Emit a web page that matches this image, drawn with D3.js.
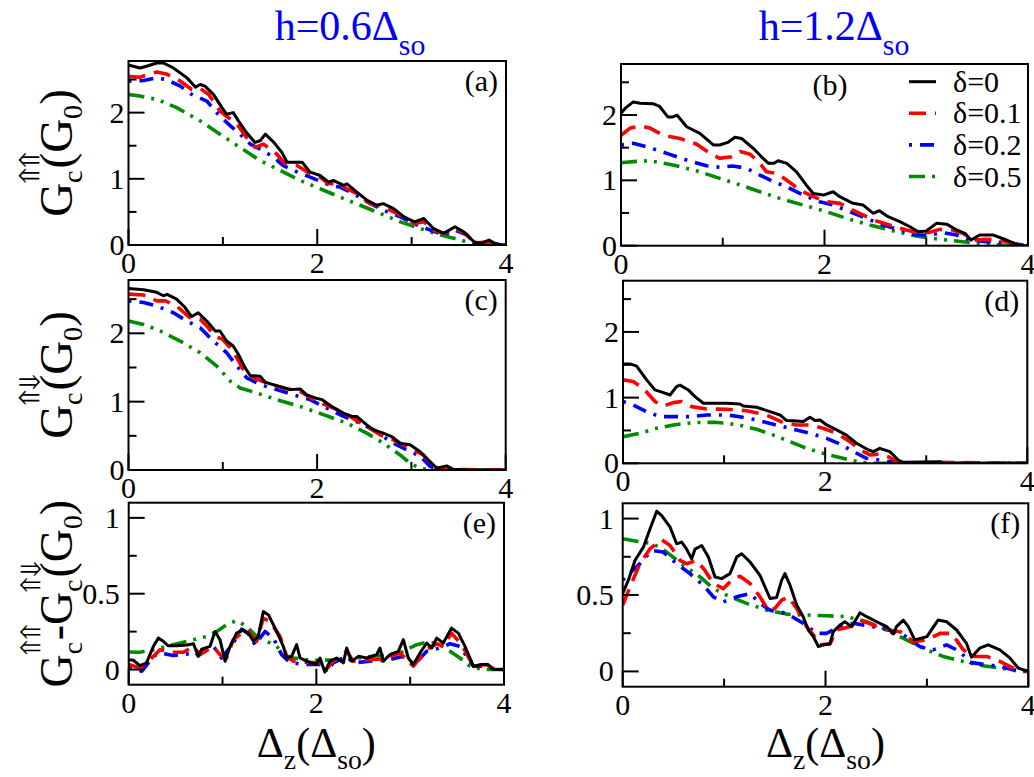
<!DOCTYPE html>
<html><head><meta charset="utf-8">
<script src="https://cdn.jsdelivr.net/npm/d3@7"></script>
<style>
body{margin:0;background:#fff}
svg{display:block}
</style></head><body>
<svg id="c" width="1034" height="777"></svg>
<script>
// ---------------- data ----------------
const deltaLabels = ["δ=0","δ=0.1","δ=0.2","δ=0.5"];
const seriesColors = ["#000000","#ff0000","#0000ff","#008c00"];
const xTickMajor = [0,2,4];
const xTickMinor = [1,3];
const yTickMajorG = [0,1,2];
const yTickMinorG = [0.5,1.5,2.5];
const yTickMajorDiff = [0,0.5,1];
const yTickMinorDiff = [0.25,0.75];
const panelLetters = ["(a)","(b)","(c)","(d)","(e)","(f)"];
const hValues = ["0.6","1.2"];

// panel (a): h=0.6, G_c^{uu}
const a_d0 = [[0,2.72],[0.12,2.675],[0.19,2.70],[0.30,2.75],[0.37,2.75],[0.475,2.675],[0.62,2.525],[0.71,2.385],[0.76,2.425],[0.81,2.40],[0.90,2.275],[0.99,2.075],[1.04,1.975],[1.11,2.0],[1.165,1.875],[1.25,1.70],[1.34,1.55],[1.395,1.575],[1.45,1.675],[1.54,1.55],[1.625,1.40],[1.68,1.25],[1.785,1.25],[1.84,1.25],[1.925,1.10],[2.03,1.05],[2.12,0.95],[2.17,0.975],[2.28,0.90],[2.315,0.925],[2.42,0.80],[2.53,0.675],[2.63,0.60],[2.70,0.625],[2.81,0.55],[2.92,0.425],[3.03,0.35],[3.13,0.40],[3.23,0.25],[3.34,0.175],[3.46,0.275],[3.55,0.20],[3.66,0.05],[3.73,0.025],[3.82,0.075],[3.90,0.01],[4,0]];
const a_d1 = [[0,2.55],[0.12,2.535],[0.30,2.615],[0.40,2.585],[0.55,2.475],[0.67,2.35],[0.76,2.365],[0.85,2.275],[0.97,2.025],[1.08,1.90],[1.15,1.825],[1.25,1.625],[1.34,1.475],[1.43,1.525],[1.57,1.375],[1.66,1.225],[1.785,1.20],[1.925,1.075],[2.03,1.025],[2.12,0.925],[2.21,0.925],[2.315,0.85],[2.42,0.775],[2.56,0.625],[2.70,0.575],[2.85,0.475],[3.03,0.325],[3.13,0.35],[3.23,0.225],[3.34,0.175],[3.46,0.25],[3.57,0.175],[3.66,0.035],[3.80,0.04],[3.90,0.01],[4,0]];
const a_d2 = [[0,2.475],[0.16,2.485],[0.30,2.525],[0.40,2.50],[0.55,2.40],[0.67,2.275],[0.83,2.175],[0.95,1.975],[1.08,1.80],[1.18,1.675],[1.29,1.525],[1.395,1.45],[1.54,1.325],[1.64,1.20],[1.75,1.125],[1.925,1.025],[2.14,0.90],[2.24,0.875],[2.385,0.775],[2.53,0.65],[2.70,0.525],[2.88,0.425],[3.06,0.30],[3.20,0.225],[3.34,0.15],[3.46,0.225],[3.59,0.15],[3.66,0.035],[3.80,0.035],[4,0]];
const a_d5 = [[0,2.275],[0.12,2.25],[0.30,2.20],[0.51,2.075],[0.76,1.875],[0.97,1.675],[1.18,1.475],[1.395,1.275],[1.61,1.125],[1.82,0.975],[2.03,0.85],[2.24,0.725],[2.455,0.60],[2.67,0.475],[2.88,0.35],[3.09,0.25],[3.31,0.15],[3.52,0.075],[3.66,0.01],[4,0]];

// panel (b): h=1.2, G_c^{uu}
const b_d0 = [[0,2.025],[0.04,2.10],[0.12,2.20],[0.19,2.18],[0.32,2.17],[0.38,2.13],[0.46,1.97],[0.51,1.97],[0.55,2.0],[0.645,1.82],[0.775,1.72],[0.91,1.54],[0.97,1.54],[1.05,1.58],[1.12,1.66],[1.185,1.64],[1.30,1.49],[1.38,1.36],[1.45,1.26],[1.50,1.26],[1.545,1.30],[1.63,1.26],[1.725,1.13],[1.82,0.93],[1.89,0.80],[1.99,0.775],[2.085,0.826],[2.15,0.75],[2.28,0.648],[2.38,0.622],[2.48,0.495],[2.54,0.536],[2.625,0.444],[2.74,0.367],[2.84,0.29],[2.92,0.214],[3.0,0.224],[3.10,0.342],[3.20,0.33],[3.30,0.24],[3.38,0.19],[3.44,0.087],[3.525,0.163],[3.66,0.163],[3.79,0.087],[3.92,0],[4,0]];
const b_d1 = [[0,1.69],[0.09,1.80],[0.19,1.83],[0.285,1.80],[0.415,1.69],[0.58,1.64],[0.74,1.556],[0.874,1.413],[0.97,1.337],[1.087,1.362],[1.17,1.44],[1.27,1.40],[1.365,1.26],[1.43,1.13],[1.53,1.107],[1.627,1.005],[1.758,0.852],[1.89,0.75],[2.02,0.673],[2.15,0.648],[2.31,0.52],[2.48,0.393],[2.64,0.316],[2.805,0.24],[2.94,0.19],[3.03,0.204],[3.13,0.25],[3.26,0.24],[3.36,0.19],[3.46,0.087],[3.59,0.097],[3.72,0.087],[3.85,0.036],[4,0]];
const b_d2 = [[0,1.54],[0.12,1.566],[0.25,1.515],[0.45,1.413],[0.645,1.31],[0.84,1.224],[0.97,1.20],[1.10,1.22],[1.234,1.184],[1.365,1.08],[1.50,0.98],[1.627,0.90],[1.79,0.775],[1.954,0.673],[2.085,0.622],[2.25,0.52],[2.41,0.418],[2.576,0.316],[2.74,0.24],[2.90,0.163],[3.03,0.163],[3.165,0.20],[3.30,0.163],[3.43,0.087],[3.59,0.061],[3.79,0.046],[4,0]];
const b_d5 = [[0,1.27],[0.15,1.29],[0.285,1.30],[0.51,1.235],[0.74,1.148],[0.97,1.03],[1.17,0.93],[1.365,0.826],[1.56,0.724],[1.79,0.622],[2.02,0.52],[2.216,0.418],[2.445,0.316],[2.67,0.23],[2.90,0.148],[3.13,0.097],[3.36,0.061],[3.59,0.02],[3.85,0],[4,0]];

// panel (c): h=0.6, G_c^{ud}
const c_d0 = [[0,2.657],[0.16,2.637],[0.30,2.60],[0.37,2.55],[0.41,2.57],[0.51,2.50],[0.60,2.377],[0.67,2.245],[0.74,2.30],[0.83,2.18],[0.92,2.034],[0.97,2.034],[1.04,1.887],[1.11,1.814],[1.166,1.69],[1.237,1.495],[1.29,1.382],[1.396,1.372],[1.45,1.284],[1.57,1.235],[1.714,1.176],[1.82,1.186],[1.89,1.10],[1.98,1.054],[2.05,1.03],[2.155,0.93],[2.28,0.833],[2.367,0.784],[2.42,0.784],[2.527,0.66],[2.597,0.588],[2.703,0.54],[2.79,0.49],[2.88,0.392],[2.986,0.368],[3.09,0.27],[3.2,0.12],[3.27,0.025],[3.375,0.06],[3.445,0.01],[3.59,0],[4,0]];
const c_d1 = [[0,2.574],[0.16,2.56],[0.30,2.475],[0.39,2.475],[0.51,2.40],[0.65,2.23],[0.76,2.206],[0.83,2.108],[0.92,1.95],[0.99,1.92],[1.08,1.79],[1.15,1.64],[1.237,1.42],[1.325,1.348],[1.466,1.275],[1.643,1.20],[1.82,1.15],[1.996,1.005],[2.173,0.907],[2.35,0.784],[2.527,0.637],[2.668,0.515],[2.81,0.44],[2.986,0.32],[3.127,0.22],[3.233,0.05],[3.34,0.01],[4,0]];
const c_d2 = [[0,2.475],[0.16,2.45],[0.30,2.40],[0.477,2.30],[0.618,2.18],[0.76,2.08],[0.90,1.887],[1.04,1.716],[1.15,1.52],[1.254,1.348],[1.396,1.25],[1.57,1.176],[1.75,1.10],[1.926,1.03],[2.10,0.907],[2.28,0.784],[2.456,0.686],[2.633,0.564],[2.774,0.417],[2.95,0.294],[3.09,0.206],[3.2,0.05],[3.34,0],[4,0]];
const c_d5 = [[0,2.18],[0.16,2.13],[0.336,2.034],[0.548,1.887],[0.76,1.716],[0.936,1.52],[1.08,1.30],[1.184,1.20],[1.36,1.127],[1.572,1.03],[1.82,0.93],[2.067,0.81],[2.314,0.686],[2.527,0.54],[2.703,0.392],[2.88,0.22],[2.986,0.098],[3.09,0.025],[3.233,0],[4,0]];

// panel (d): h=1.2, G_c^{ud}
const d_d0 = [[0,1.513],[0.07,1.513],[0.135,1.48],[0.234,1.27],[0.317,1.117],[0.40,1.076],[0.465,1.04],[0.53,1.167],[0.564,1.19],[0.646,1.117],[0.712,1.015],[0.795,0.914],[0.894,0.914],[1.026,0.914],[1.157,0.904],[1.19,0.873],[1.322,0.853],[1.454,0.787],[1.553,0.736],[1.619,0.65],[1.718,0.645],[1.784,0.635],[1.85,0.70],[1.90,0.65],[1.95,0.66],[2.015,0.584],[2.114,0.508],[2.21,0.43],[2.31,0.305],[2.43,0.203],[2.477,0.178],[2.54,0.228],[2.64,0.178],[2.724,0.05],[2.77,0.015],[3.136,0.025],[3.17,0],[4,0]];
const d_d1 = [[0,1.27],[0.10,1.244],[0.20,1.142],[0.317,0.94],[0.40,0.873],[0.498,0.924],[0.58,0.94],[0.68,0.863],[0.828,0.827],[1.026,0.822],[1.223,0.80],[1.42,0.736],[1.586,0.62],[1.718,0.584],[1.85,0.584],[1.98,0.533],[2.114,0.457],[2.246,0.33],[2.345,0.203],[2.443,0.127],[2.54,0.142],[2.625,0.10],[2.707,0.025],[2.806,0],[3.136,0.015],[4,0]];
const d_d2 = [[0,0.94],[0.10,0.888],[0.234,0.787],[0.366,0.71],[0.498,0.71],[0.663,0.71],[0.828,0.736],[1.026,0.736],[1.157,0.71],[1.322,0.66],[1.487,0.594],[1.685,0.518],[1.85,0.457],[2.015,0.38],[2.147,0.294],[2.279,0.178],[2.41,0.076],[2.54,0.05],[2.64,0.025],[2.74,0],[4,0]];
const d_d5 = [[0,0.406],[0.168,0.457],[0.333,0.533],[0.498,0.584],[0.696,0.62],[0.894,0.624],[1.026,0.609],[1.157,0.579],[1.322,0.518],[1.487,0.43],[1.652,0.33],[1.817,0.228],[1.98,0.152],[2.114,0.10],[2.246,0.05],[2.377,0.01],[2.477,0],[4,0]];

// panel (e): h=0.6, difference
const e_d0 = [[0,0.065],[0.05,0.061],[0.12,0.026],[0.19,0.044],[0.263,0.153],[0.316,0.207],[0.37,0.186],[0.42,0.157],[0.51,0.157],[0.62,0.162],[0.69,0.17],[0.742,0.087],[0.778,0.135],[0.867,0.153],[0.92,0.251],[0.973,0.197],[1.027,0.055],[1.08,0.153],[1.15,0.24],[1.22,0.262],[1.275,0.24],[1.33,0.186],[1.38,0.218],[1.435,0.382],[1.49,0.36],[1.577,0.251],[1.648,0.153],[1.684,0.076],[1.737,0.087],[1.79,0.164],[1.826,0.076],[1.897,0.055],[2.0,0.033],[2.04,0.076],[2.09,-0.017],[2.146,0.055],[2.217,0.076],[2.288,0.044],[2.323,0.142],[2.377,0.055],[2.448,0.087],[2.536,0.076],[2.643,0.098],[2.678,0.142],[2.714,0.055],[2.785,0.098],[2.874,0.12],[2.927,0.197],[2.98,0.076],[3.034,0.033],[3.105,0.109],[3.176,0.175],[3.23,0.142],[3.282,0.207],[3.353,0.175],[3.44,0.273],[3.513,0.24],[3.584,0.153],[3.673,0.022],[3.76,0.033],[3.83,0.033],[3.886,0],[4,0]];
const e_d1 = [[0,0.033],[0.12,0.011],[0.227,0.065],[0.334,0.131],[0.44,0.114],[0.583,0.114],[0.69,0.153],[0.76,0.098],[0.9,0.153],[0.973,0.098],[1.044,0.076],[1.115,0.197],[1.258,0.262],[1.364,0.186],[1.435,0.338],[1.506,0.317],[1.613,0.218],[1.684,0.087],[1.755,0.055],[1.897,0.048],[2.04,0.044],[2.09,-0.011],[2.18,0.055],[2.323,0.12],[2.394,0.055],[2.536,0.065],[2.714,0.07],[2.89,0.109],[3.034,0.022],[3.176,0.131],[3.282,0.17],[3.353,0.153],[3.44,0.24],[3.55,0.164],[3.673,0.022],[3.815,0.033],[3.9,0],[4,0]];
const e_d2 = [[0,0.011],[0.14,-0.011],[0.263,0.087],[0.334,0.109],[0.476,0.092],[0.654,0.105],[0.707,0.087],[0.796,0.131],[0.9,0.157],[0.99,0.076],[1.115,0.175],[1.204,0.266],[1.275,0.236],[1.346,0.164],[1.453,0.251],[1.542,0.207],[1.63,0.098],[1.72,0.044],[1.897,0.033],[2.075,0.033],[2.11,-0.017],[2.18,0.044],[2.323,0.087],[2.394,0.044],[2.57,0.055],[2.75,0.061],[2.927,0.087],[3.034,0.026],[3.176,0.12],[3.318,0.142],[3.424,0.17],[3.53,0.153],[3.673,0.022],[3.815,0.022],[3.92,0],[4,0]];
const e_d5 = [[0,0.116],[0.12,0.114],[0.263,0.131],[0.405,0.153],[0.547,0.175],[0.69,0.197],[0.83,0.218],[0.938,0.251],[1.044,0.295],[1.15,0.323],[1.258,0.284],[1.364,0.218],[1.47,0.186],[1.577,0.153],[1.666,0.092],[1.755,0.076],[1.897,0.065],[2.04,0.061],[2.217,0.065],[2.394,0.072],[2.536,0.083],[2.714,0.094],[2.89,0.109],[3.07,0.164],[3.176,0.179],[3.282,0.175],[3.389,0.135],[3.53,0.076],[3.638,0.022],[3.78,0],[4,0]];

// panel (f): h=1.2, difference
const f_d0 = [[0,0.51],[0.056,0.597],[0.122,0.727],[0.204,0.813],[0.27,0.933],[0.335,1.048],[0.385,1.02],[0.467,0.944],[0.532,0.835],[0.582,0.846],[0.63,0.80],[0.68,0.737],[0.713,0.80],[0.779,0.824],[0.845,0.748],[0.91,0.618],[0.976,0.607],[1.058,0.64],[1.124,0.748],[1.173,0.77],[1.256,0.716],[1.354,0.629],[1.453,0.477],[1.518,0.484],[1.568,0.597],[1.60,0.64],[1.65,0.564],[1.716,0.434],[1.78,0.358],[1.83,0.271],[1.88,0.228],[1.93,0.163],[1.98,0.174],[2.044,0.18],[2.077,0.26],[2.143,0.304],[2.19,0.325],[2.258,0.293],[2.34,0.384],[2.406,0.358],[2.505,0.325],[2.603,0.293],[2.67,0.245],[2.70,0.293],[2.767,0.336],[2.817,0.293],[2.88,0.206],[3.0,0.228],[3.11,0.336],[3.195,0.325],[3.293,0.271],[3.39,0.184],[3.44,0.093],[3.52,0.152],[3.605,0.174],[3.72,0.141],[3.82,0.087],[3.90,0.022],[4,0]];
const f_d1 = [[0,0.434],[0.072,0.553],[0.17,0.705],[0.27,0.803],[0.385,0.861],[0.467,0.824],[0.565,0.727],[0.63,0.705],[0.73,0.727],[0.81,0.662],[0.894,0.575],[0.993,0.542],[1.09,0.607],[1.157,0.623],[1.256,0.575],[1.354,0.488],[1.436,0.401],[1.50,0.412],[1.568,0.466],[1.634,0.488],[1.716,0.412],[1.814,0.293],[1.88,0.239],[1.946,0.174],[2.044,0.18],[2.11,0.271],[2.24,0.293],[2.34,0.336],[2.47,0.304],[2.603,0.271],[2.735,0.26],[2.866,0.195],[3.0,0.206],[3.13,0.249],[3.244,0.249],[3.36,0.141],[3.457,0.098],[3.59,0.098],[3.72,0.065],[3.85,0.022],[4,0]];
const f_d2 = [[0,0.597],[0.072,0.644],[0.17,0.705],[0.286,0.792],[0.40,0.781],[0.532,0.705],[0.664,0.64],[0.795,0.564],[0.894,0.488],[0.993,0.455],[1.124,0.488],[1.256,0.51],[1.354,0.445],[1.453,0.401],[1.617,0.38],[1.78,0.315],[1.913,0.249],[2.01,0.249],[2.143,0.293],[2.275,0.315],[2.47,0.293],[2.636,0.271],[2.767,0.239],[2.93,0.163],[3.06,0.141],[3.195,0.174],[3.326,0.13],[3.425,0.059],[3.59,0.043],[3.72,0.033],[3.85,0.011],[4,0]];
const f_d5 = [[0,0.868],[0.138,0.852],[0.30,0.835],[0.434,0.781],[0.6,0.694],[0.763,0.618],[0.894,0.542],[1.058,0.488],[1.223,0.445],[1.42,0.401],[1.617,0.375],[1.814,0.369],[2.01,0.364],[2.21,0.358],[2.406,0.325],[2.57,0.282],[2.70,0.239],[2.833,0.195],[3.0,0.141],[3.16,0.098],[3.36,0.065],[3.556,0.037],[3.72,0.022],[3.92,0],[4,0]];

// ---------------- layout ----------------
const FONT = "'Liberation Serif'";
const ARROWFONT = "'FreeSerif'";
const svg = d3.select("#c");
const dashes = [null, "17,9", "3,8,14,8", "16,7,3,7,3,7"];
const widths = [3, 3.6, 3.6, 3.6];

function txt(parent, size, fam){
  return parent.append("text").attr("font-family",fam||FONT).attr("font-size",size);
}

const panels = [
  {box:[128.5,506,61,245], dom:[0,2.78], maj:yTickMajorG, min:yTickMinorG, data:[a_d0,a_d1,a_d2,a_d5], gap:4},
  {box:[621,1028,64,245.7], dom:[0,2.78], maj:yTickMajorG, min:yTickMinorG, data:[b_d0,b_d1,b_d2,b_d5], gap:4},
  {box:[128.5,505.7,280,470], dom:[0,2.78], maj:yTickMajorG, min:yTickMinorG, data:[c_d0,c_d1,c_d2,c_d5], gap:4},
  {box:[623,1027.3,280.7,463.3], dom:[0,2.78], maj:yTickMajorG, min:yTickMinorG, data:[d_d0,d_d1,d_d2,d_d5], gap:4},
  {box:[128.7,504,502.7,684.7], dom:[-0.1,1.1], maj:yTickMajorDiff, min:yTickMinorDiff, data:[e_d0,e_d1,e_d2,e_d5], gap:9},
  {box:[622.7,1028.3,503.3,686.7], dom:[-0.1,1.1], maj:yTickMajorDiff, min:yTickMinorDiff, data:[f_d0,f_d1,f_d2,f_d5], gap:9}
];

panels.forEach((p,i)=>{
  const [l,r,t,b] = p.box;
  const x = d3.scaleLinear().domain([0,4]).range([l,r]);
  const y = d3.scaleLinear().domain(p.dom).range([b,t]);
  const g = svg.append("g");
  const clipId = "clip"+i;
  g.append("clipPath").attr("id",clipId).append("rect").attr("x",l).attr("y",t).attr("width",r-l).attr("height",b-t);
  const line = d3.line().x(d=>x(d[0])).y(d=>y(d[1]));
  const gl = g.append("g").attr("clip-path",`url(#${clipId})`);
  [3,2,1,0].forEach(k=>{
    gl.append("path").datum(p.data[k]).attr("d",line)
      .attr("fill","none").attr("stroke",seriesColors[k]).attr("stroke-width",widths[k])
      .attr("stroke-dasharray",dashes[k]).attr("stroke-linejoin","round");
  });
  xTickMajor.forEach(v=>g.append("line").attr("x1",x(v)).attr("x2",x(v)).attr("y1",b).attr("y2",b-16).attr("stroke","#000").attr("stroke-width",2));
  xTickMinor.forEach(v=>g.append("line").attr("x1",x(v)).attr("x2",x(v)).attr("y1",b).attr("y2",b-8).attr("stroke","#000").attr("stroke-width",2));
  p.maj.forEach(v=>g.append("line").attr("x1",l).attr("x2",l+16).attr("y1",y(v)).attr("y2",y(v)).attr("stroke","#000").attr("stroke-width",2));
  p.min.forEach(v=>g.append("line").attr("x1",l).attr("x2",l+8).attr("y1",y(v)).attr("y2",y(v)).attr("stroke","#000").attr("stroke-width",2));
  g.append("rect").attr("x",l).attr("y",t).attr("width",r-l).attr("height",b-t).attr("fill","none").attr("stroke","#000").attr("stroke-width",2);
  xTickMajor.forEach(v=>txt(g,30).attr("x",x(v)).attr("y",b+28).attr("text-anchor","middle").text(v));
  p.maj.forEach(v=>txt(g,30).attr("x",l-p.gap).attr("y",y(v)+10).attr("text-anchor","end").text(v));
  if (i===1) {
    txt(g,30).attr("x",830).attr("y",t+31).attr("text-anchor","middle").text(panelLetters[i]);
  } else {
    txt(g,30).attr("x",r-8).attr("y",t+30).attr("text-anchor","end").text(panelLetters[i]);
  }
});

// legend in (b)
deltaLabels.forEach((lab,k)=>{
  const ly = 81.7 + k*31.6;
  svg.append("line").attr("x1",909).attr("x2",936).attr("y1",ly).attr("y2",ly)
    .attr("stroke",seriesColors[k]).attr("stroke-width",widths[k]).attr("stroke-dasharray",dashes[k]);
  txt(svg,30).attr("x",953).attr("y",ly+10).text(lab);
});

// rich text helper (sub/superscripts)
function rich(parts, size, o){
  const g = svg.append("g");
  let x = 0;
  parts.forEach(p=>{
    if (p.n!==undefined){
      const t = txt(g,size).attr("x",x).attr("y",0).text(p.n);
      if (o.color) t.attr("fill",o.color);
      x += t.node().getComputedTextLength();
    } else {
      let w = 0;
      if (p.sup){
        txt(g,size*o.supSize,ARROWFONT).attr("x",x-size*0.02).attr("y",-size*o.supDy).text(p.sup);
      }
      if (p.sub){
        const t = txt(g,size*o.subSize).attr("x",x).attr("y",size*o.subDy).text(p.sub);
        if (o.color) t.attr("fill",o.color);
        w = t.node().getComputedTextLength();
      }
      x += w + (p.sup ? size*0.04 : 0);
    }
  });
  if (o.rotate) g.attr("transform",`translate(${o.cx},${o.cy}) rotate(-90) translate(${-x/2},0)`);
  else g.attr("transform",`translate(${o.cx - x/2},${o.cy})`);
  return g;
}

// titles
rich([{n:"h="+hValues[0]+"Δ"},{sub:"so"}], 42, {subDy:0.36, subSize:0.71, cx:350, cy:40, color:"#0000ff"});
rich([{n:"h="+hValues[1]+"Δ"},{sub:"so"}], 42, {subDy:0.36, subSize:0.71, cx:834, cy:40, color:"#0000ff"});

// x labels
[0,1].forEach(c=>{
  const p = panels[4+c];
  rich([{n:"Δ"},{sub:"z"},{n:"(Δ"},{sub:"so"},{n:")"}], 42, {subDy:0.3, subSize:0.66, cx:(p.box[0]+p.box[1])/2, cy:756.5});
});

// y labels
const ylOpts = {subDy:0.22, subSize:0.6, supDy:0.7, supSize:0.6, rotate:true, cx:72};
rich([{n:"G"},{sub:"c",sup:"⇑⇑"},{n:"(G"},{sub:"0"},{n:")"}], 47, Object.assign({},ylOpts,{cy:(panels[0].box[2]+panels[0].box[3])/2}));
rich([{n:"G"},{sub:"c",sup:"⇑⇓"},{n:"(G"},{sub:"0"},{n:")"}], 47, Object.assign({},ylOpts,{cy:(panels[2].box[2]+panels[2].box[3])/2}));
rich([{n:"G"},{sub:"c",sup:"⇑⇑"},{n:"-G"},{sub:"c",sup:"⇑⇓"},{n:"(G"},{sub:"0"},{n:")"}], 46, Object.assign({},ylOpts,{cy:(panels[4].box[2]+panels[4].box[3])/2}));
</script>
</body></html>
